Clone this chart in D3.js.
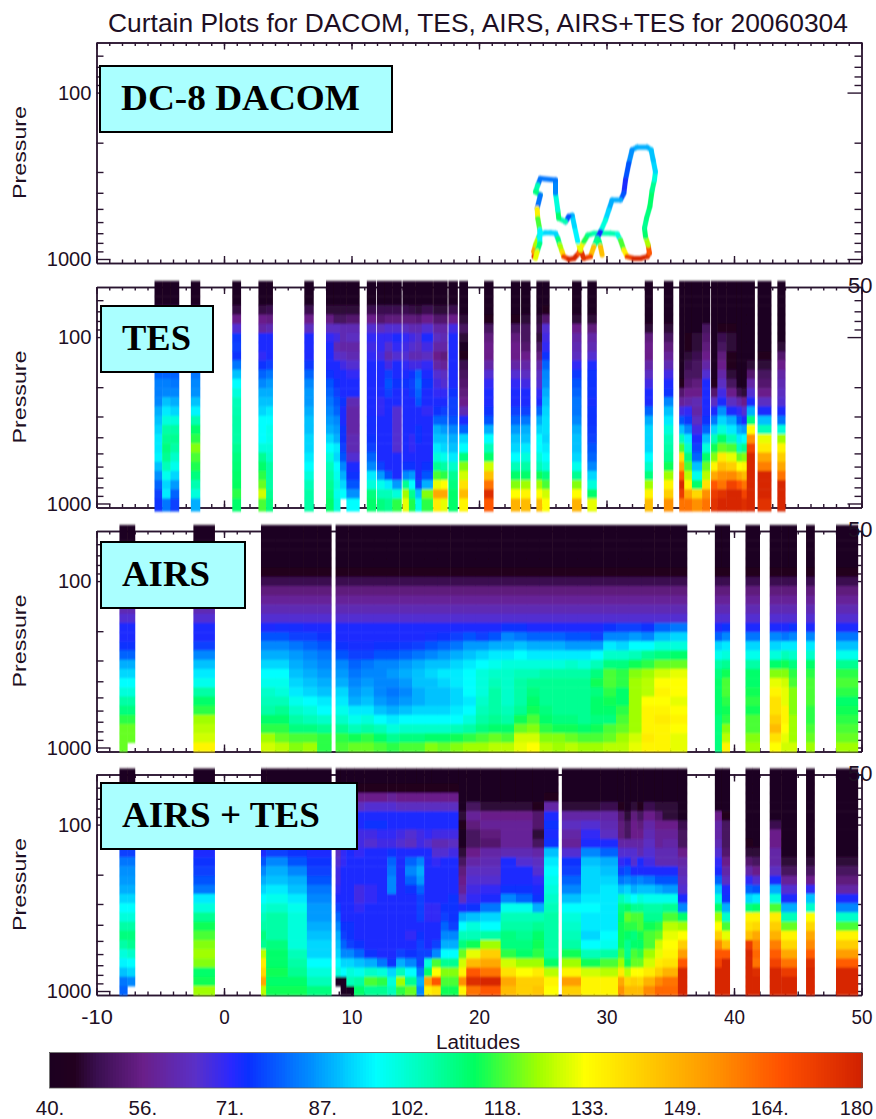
<!DOCTYPE html>
<html><head><meta charset="utf-8">
<script src="https://cdn.jsdelivr.net/npm/d3@7"></script>
<style>html,body{margin:0;padding:0;background:#fff}svg{display:block}
text{font-family:"Liberation Sans",sans-serif;fill:#1e0f24}</style></head><body>
<svg id="c" width="876" height="1119"></svg>
<script>
// ---------- data ----------
const chartTitle = "Curtain Plots for DACOM, TES, AIRS, AIRS+TES for 20060304";
const pressureEdges = [46,56.8,64.5,73.2,83.2,94.5,107,122,138,157,178,203,230,261,297,337,383,435,494,561,637,723,821,933,1057];
const latTicks = [-10,0,10,20,30,40,50];
const latMinor = d3.range(-10,51);
const pressMajor = [100,1000];
const pressMinor = [60,70,80,90,200,300,400,500,600,700,800,900];
const cbTicks = [40,56,71,87,102,118,133,149,164,180];
const cbLabels = ["40.","56.","71.","87.","102.","118.","133.","149.","164.","180"];
const cmapValues = [40,44,48,56,65,71,74,85,96,105,113,124,132,145,155,166,180];
const cmapColors = ["#1c0020","#22001f","#3a0f50","#6a1f8a","#5a30c8","#2a28ff","#0a30ff","#0090ff","#00ffff","#00ffb0","#00ff60","#a0ff00","#ffff00","#ffc000","#ff9000","#ff5000","#d02000"];

// DC-8 DACOM track
const dacomLat = [24.30,24.43,24.30,24.43,24.69,24.82,25.22,25.61,26.0,26.18,26.34,26.52,26.65,27.05,27.44,27.83,27.96,28.22,28.54,29.01,29.53,30.31,30.84,31.1,31.36,31.62,32.14,32.67,33.19,33.37,33.27,33.06,32.98,33.14,33.4,33.58,33.76,33.84,33.66,33.5,33.19,32.4,32.01,31.75,31.49,31.36,31.1,30.44,30.18,29.92,29.53,29.27,29.01,28.74,28.22,27.96,27.75,27.49,27.31,27.05,26.78,26.26,26.18,26.0,26.0,24.82,24.61,24.43,24.82,24.56,24.61,24.77,24.77,24.56,24.43];
const dacomPres = [968,947,904,824,735,708,695,695,701,751,824,904,968,1004,992,925,863,788,718,701,701,701,708,770,883,968,992,992,968,925,824,735,653,570,485,386,335,299,254,221,213,213,221,266,335,403,442,442,508,584,685,751,842,968,992,883,788,638,546,554,598,570,508,403,335,328,360,395,412,497,570,669,805,904,992];
const dacomVal = [175,165,150,125,105,95,92,92,92,110,125,140,170,178,178,165,135,115,108,105,105,105,100,118,135,170,178,178,175,165,125,112,108,110,112,108,100,92,90,90,88,88,85,78,72,78,88,88,92,100,73,108,145,170,175,130,95,92,88,78,105,112,100,84,82,82,105,110,82,135,118,95,110,130,175];
const dacomStickLat = [29.4,29.53,29.66];
const dacomStickPres = [770,842,947];
const dacomStickVal = [110,145,170];

// TES columns
const tesSpans = [[-5.45,-4.85],[-4.85,-4.2],[-4.2,-3.55],[-2.6,-1.9],[0.65,1.3],[2.7,3.3],[3.3,3.8],[6.3,7.0],[8.0,8.6],[8.6,9.1],[9.1,9.6],[9.6,10.6],[11.2,11.9],[12,12.6],[12.6,13.2],[13.2,13.9],[14,14.5],[14.5,15],[15,15.5],[15.5,16.35],[16.4,17],[17,17.5],[17.6,18.3],[18.45,19.1],[20.4,21.1],[22.5,23.2],[23.3,24],[24.5,24.95],[24.95,25.5],[27.3,28],[28.5,29.2],[33,33.6],[34.5,35.2],[35.7,36.1],[36.1,36.7],[36.7,37.5],[37.5,38.1],[38.2,38.7],[38.7,39.4],[39.4,40.2],[40.2,40.6],[40.6,41],[41,41.6],[41.85,42.9],[43.4,44]];
const tesProfiles = [
[41,41,48,56,65,72,72,72,73,80,83,83,84,88,90,92,94,94,95,90,85,80,76,74],
[41,41,48,56,65,72,72,72,73,80,83,84,90,94,100,106,108,110,108,104,98,92,94,82],
[41,41,48,56,65,72,72,72,73,80,82,84,88,92,100,106,108,106,102,98,92,86,80,76],
[41,41,48,56,65,72,72,72,75,82,84,85,90,95,105,112,116,122,118,115,110,105,100,88],
[41,41,47,56,66,75,76,74,82,90,96,100,104,105,106,106,106,108,110,111,112,113,116,112],
[41,41,47,56,60,72,72,70,74,80,84,88,90,92,96,96,96,100,108,112,116,120,128,118],
[41,41,48,55,62,72,72,72,76,82,86,88,90,94,96,98,98,100,102,106,106,106,108,110],
[41,41,48,56,64,72,72,72,75,80,84,86,86,88,90,90,92,92,94,96,100,104,106,106],
[41,41,46,55,64,70,72,72,72,74,78,80,82,84,86,88,92,96,100,104,106,108,110,112],
[41,41,46,50,64,68,62,66,72,72,74,76,78,80,84,86,88,94,92,96,98,100,98,100],
[41,41,46,50,62,62,60,64,68,72,72,72,74,72,72,74,74,76,78,84,88,92,96,null],
[41,41,46,52,62,64,60,62,66,70,72,72,62,60,60,60,62,62,66,72,74,78,85,96],
[41,41,48,56,66,70,68,70,72,72,72,72,72,72,73,73,74,76,80,84,94,100,110,112],
[41,41,48,52,64,70,70,68,72,72,72,72,70,70,72,72,72,72,72,76,86,98,104,110],
[41,41,48,54,66,70,66,62,68,76,78,76,72,72,72,72,72,72,72,72,78,94,104,108],
[41,41,48,54,66,72,70,66,72,72,74,72,72,66,66,66,66,66,72,72,72,86,100,116],
[41,41,48,54,64,70,68,66,70,72,74,72,72,72,72,72,72,72,72,74,84,108,124,130],
[41,41,47,54,62,68,66,62,68,74,76,75,72,72,72,72,70,70,72,74,86,96,108,115],
[41,41,46,53,62,66,64,62,68,80,82,80,78,72,72,74,74,72,72,72,72,76,90,98],
[41,41,48,56,66,72,68,64,70,72,74,72,72,70,72,72,72,72,72,74,78,88,122,116],
[41,41,46,52,60,64,60,56,60,66,68,70,72,74,80,88,90,94,100,108,118,130,150,136],
[41,41,46,52,60,62,60,54,58,64,66,70,72,76,80,86,90,92,98,106,116,132,150,130],
[41,41,48,56,68,72,72,72,72,72,72,74,76,76,78,84,88,90,94,102,108,110,112,112],
[41,41,41,46,50,46,42,44,48,50,52,54,56,62,72,80,92,96,110,122,128,138,146,134],
[41,41,41,44,50,54,56,56,60,66,70,72,72,74,78,88,96,104,112,128,145,160,176,165],
[41,41,41,44,50,54,56,56,60,66,70,72,72,76,80,86,90,92,96,104,112,122,132,148],
[41,41,41,46,50,50,52,56,60,64,68,72,72,76,82,88,90,94,100,106,112,124,134,146],
[41,41,41,46,48,46,50,54,60,64,66,70,72,80,88,92,96,96,100,104,114,124,132,146],
[41,41,44,52,66,68,70,74,80,84,85,88,90,92,93,93,92,94,96,100,110,118,128,132],
[41,41,41,46,56,60,62,64,70,75,78,80,82,82,84,88,90,90,92,98,108,122,132,148],
[41,41,41,46,54,60,62,66,72,74,74,74,73,74,74,75,76,78,80,84,92,100,112,130],
[41,41,41,41,46,54,56,56,60,64,68,72,72,80,88,92,92,92,96,102,110,124,134,146],
[41,41,41,41,46,50,54,58,62,68,72,74,84,90,94,100,104,106,108,114,124,134,142,155],
[41,41,41,41,41,41,41,41,41,41,44,52,58,68,78,90,104,118,138,150,165,178,172,160],
[41,41,41,41,41,44,44,46,48,50,52,56,60,70,75,84,94,102,110,118,126,134,150,160],
[41,41,41,41,41,46,46,48,50,50,54,56,62,60,64,68,72,76,80,90,98,112,140,155],
[41,41,41,41,50,52,54,56,60,66,72,72,72,72,74,80,90,100,112,120,126,138,155,160],
[41,41,41,41,41,41,41,41,41,41,44,52,64,72,82,92,104,114,122,134,150,165,172,175],
[41,41,41,41,44,48,50,54,56,60,64,68,72,85,92,100,112,120,136,145,155,160,175,178],
[41,41,41,41,44,46,46,44,44,46,50,56,64,72,88,94,104,118,130,142,156,170,178,178],
[41,41,41,41,41,41,41,41,41,41,42,48,60,70,78,88,94,104,120,132,150,165,178,178],
[41,41,41,41,41,41,41,41,41,41,41,46,56,66,72,86,96,108,122,134,146,160,170,176],
[41,41,41,41,41,41,41,42,46,52,60,66,72,88,110,132,155,170,178,178,178,178,178,178],
[41,41,41,41,41,41,41,44,46,50,52,56,64,72,90,104,130,136,150,158,178,178,178,175],
[41,41,41,41,41,42,46,52,56,60,62,64,66,72,82,100,124,134,142,150,160,178,178,178]
];

// AIRS columns
const airsUpper = [41,41,41,41,44,48,54,58,62,66];
const airsSpans = [[-8.2,-7.6],[-7.6,-7.0],[-2.4,-0.75],[2.9,4.0],[4.0,5.1],[5.1,6.2],[6.2,7.3],[7.3,8.4],[8.75,9.75],[9.75,10.75],[10.75,11.75],[11.75,12.75],[12.75,13.75],[13.75,14.75],[14.75,15.75],[15.75,16.75],[16.75,17.75],[17.75,18.75],[18.75,19.75],[19.75,20.75],[20.75,21.75],[21.75,22.75],[22.75,23.75],[23.75,24.75],[24.75,25.75],[25.75,26.75],[26.75,27.75],[27.75,28.75],[28.75,29.75],[29.75,30.75],[30.75,31.75],[31.75,32.75],[32.75,33.75],[33.75,35],[35,36.3],[38.5,39.05],[39.05,39.65],[40.9,42],[42.8,43.7],[43.7,44.3],[44.3,44.9],[45.65,46.3],[48,49.7]];
const airsProfiles = [
[...airsUpper,72,72,74,80,88,92,96,100,106,110,116,120,120,120],
[...airsUpper,72,72,74,80,88,92,96,100,106,110,116,120,120,null],
[...airsUpper,72,72,76,84,90,94,98,106,112,116,124,126,128,134],
[...airsUpper,72,78,84,88,92,96,98,102,104,106,112,116,124,128],
[...airsUpper,73,78,84,88,92,96,98,100,104,108,112,116,120,126],
[...airsUpper,73,76,82,86,88,90,92,94,98,102,106,110,118,122],
[...airsUpper,72,76,80,84,86,88,90,92,96,100,104,110,118,124],
[...airsUpper,72,74,78,82,84,86,88,90,94,96,102,108,116,116],
[...airsUpper,72,72,74,78,84,86,88,92,94,98,102,108,116,118],
[...airsUpper,72,72,73,76,80,82,84,86,88,94,98,104,114,120],
[...airsUpper,72,72,73,76,82,84,86,88,90,94,100,106,116,120],
[...airsUpper,72,72,74,78,84,84,84,84,86,90,96,104,112,118],
[...airsUpper,72,72,74,78,84,86,84,82,84,88,94,100,108,116],
[...airsUpper,72,72,75,80,86,88,86,84,86,90,96,102,110,118],
[...airsUpper,72,72,76,82,88,90,90,88,88,92,96,102,110,118],
[...airsUpper,72,73,78,84,90,92,90,90,90,92,96,102,112,122],
[...airsUpper,72,74,80,86,90,94,92,90,90,92,96,102,112,120],
[...airsUpper,72,76,82,88,92,94,94,92,92,94,96,104,114,122],
[...airsUpper,72,78,86,90,94,96,96,96,94,96,100,106,116,124],
[...airsUpper,72,76,86,92,96,100,100,100,102,104,106,110,118,124],
[...airsUpper,72,78,88,94,98,102,104,106,106,106,108,112,120,126],
[...airsUpper,74,84,88,94,100,102,102,102,102,104,106,112,118,126],
[...airsUpper,74,82,90,96,100,104,106,106,106,108,114,120,128,130],
[...airsUpper,72,80,88,94,100,104,108,110,112,114,118,122,128,132],
[...airsUpper,72,80,88,94,100,106,108,108,108,110,112,116,122,126],
[...airsUpper,72,80,88,94,100,106,108,108,108,108,110,114,122,124],
[...airsUpper,72,78,86,94,102,106,108,108,108,108,110,114,120,126],
[...airsUpper,72,78,86,94,100,106,108,108,108,108,108,112,118,124],
[...airsUpper,72,76,86,96,104,110,114,110,112,112,110,114,118,124],
[...airsUpper,74,84,94,102,110,118,118,116,114,112,110,118,120,126],
[...airsUpper,76,84,92,102,110,116,116,112,112,116,118,120,124,126],
[...airsUpper,76,86,96,104,114,122,124,124,124,124,124,124,128,130],
[...airsUpper,74,84,96,108,116,124,126,126,132,134,134,134,136,134],
[...airsUpper,80,90,100,110,120,128,132,134,132,134,136,134,134,134],
[...airsUpper,82,92,100,112,120,130,132,132,130,132,134,132,130,130],
[...airsUpper,72,80,92,98,106,110,112,112,112,112,110,110,110,110],
[...airsUpper,74,84,94,100,108,114,118,118,116,114,116,122,126,134],
[...airsUpper,72,82,92,98,106,112,112,114,116,114,118,118,122,124],
[...airsUpper,72,84,92,100,112,122,130,134,138,138,142,146,138,132],
[...airsUpper,72,82,94,104,114,122,128,130,130,134,134,132,130,128],
[...airsUpper,74,84,94,102,110,116,118,122,122,122,124,124,124,128],
[...airsUpper,72,84,94,102,112,116,118,118,118,116,116,118,120,124],
[...airsUpper,72,82,90,98,108,116,118,116,112,114,116,118,120,124]
];

// AIRS + TES columns
const bothSpans = [[-8.2,-7.6],[-7.6,-7.0],[-2.4,-0.75],[2.9,3.3],[3.3,5],[5,6.5],[6.5,8.4],[8.75,9.15],[9.15,9.6],[9.6,10.2],[10.2,11],[11,12],[12,12.8],[12.8,13.5],[13.5,14.2],[14.2,15.1],[15.1,15.7],[15.7,16.3],[16.3,17],[17,17.6],[17.6,18.4],[18.4,19],[19,20.1],[20.1,21.7],[21.7,22.9],[22.9,24.2],[24.2,25.1],[25.1,26.2],[26.5,28],[28,29.5],[29.5,30.9],[30.9,31.4],[31.4,31.9],[31.9,32.4],[32.4,32.9],[32.9,33.8],[33.8,34.4],[34.4,35.6],[35.6,36.3],[38.5,39.05],[39.05,39.65],[40.9,41.45],[41.45,42],[42.8,43.7],[43.7,44.9],[45.65,46.3],[48,49.7]];
const bothProfiles = [
[41,41,48,56,66,72,72,72,76,82,85,86,88,92,96,100,106,110,106,100,95,90,82,80],
[41,41,48,56,66,72,72,72,76,82,85,86,88,92,96,100,106,110,108,102,96,92,84,null],
[41,41,48,56,66,72,72,72,72,74,76,78,82,94,100,108,114,118,122,124,122,112,114,124],
[41,41,48,56,66,72,72,72,72,78,84,88,92,96,100,104,106,110,108,126,136,140,150,126],
[41,41,48,56,66,72,72,74,76,84,88,90,94,98,102,106,106,106,110,112,112,114,112,114],
[41,41,48,56,66,72,72,72,74,78,84,88,90,94,98,100,100,100,100,104,106,108,112,114],
[41,41,48,56,66,72,72,72,72,74,76,78,82,84,86,86,88,90,92,92,96,100,104,110],
[41,41,48,50,56,60,62,64,64,66,68,68,70,72,76,80,84,88,90,92,96,100,40,null],
[41,41,50,60,68,72,72,72,70,70,72,72,72,72,72,72,74,76,80,84,92,96,40,40],
[41,41,48,60,72,72,72,72,72,72,72,72,72,72,72,72,74,74,76,84,92,100,104,40],
[41,44,56,64,72,72,68,68,70,72,72,72,68,68,70,72,72,72,74,80,90,98,106,112],
[41,44,56,66,72,74,68,66,72,72,72,72,70,70,72,72,72,72,72,74,88,102,118,108],
[41,44,56,66,72,74,70,68,72,72,72,72,72,72,72,72,72,72,72,72,82,100,116,108],
[41,44,58,66,72,72,70,68,74,80,82,84,84,72,72,72,72,72,72,72,74,92,100,104],
[41,44,56,64,72,72,68,66,72,72,72,72,72,72,72,72,72,72,72,76,88,104,124,116],
[41,44,56,64,72,72,66,64,72,80,84,80,74,72,72,72,72,70,72,74,84,96,108,120],
[41,44,56,64,72,72,68,68,72,84,88,86,80,76,76,76,72,74,76,76,76,82,88,84],
[41,44,56,64,72,72,70,66,72,72,72,72,72,72,70,70,72,72,72,76,100,112,150,135],
[41,44,56,64,72,72,68,62,66,70,72,72,72,72,70,70,72,72,76,84,118,132,165,138],
[41,44,56,64,72,72,68,62,66,72,72,72,72,72,74,76,80,84,88,96,108,122,118,114],
[41,44,56,64,72,72,68,64,68,72,72,72,72,74,74,74,76,84,88,96,108,122,118,114],
[41,41,41,41,46,44,41,42,46,50,54,56,58,64,72,88,96,104,110,120,128,134,155,134],
[41,41,41,50,58,54,50,50,56,60,64,66,68,70,74,90,100,104,114,130,146,165,176,160],
[41,41,41,46,56,58,54,52,60,62,64,66,70,72,82,92,96,106,124,142,150,160,178,165],
[41,41,41,46,56,58,58,58,62,72,72,72,74,84,98,104,106,110,110,116,128,138,150,146],
[41,41,41,46,56,58,58,58,62,66,72,72,74,80,98,104,106,108,110,112,124,132,142,142],
[41,41,41,44,52,52,46,50,60,64,66,70,72,74,88,104,108,112,114,116,124,136,142,144],
[41,41,44,60,72,74,72,74,90,94,96,98,100,102,104,106,106,106,106,106,112,126,134,132],
[41,41,41,46,60,64,60,58,66,74,76,80,84,90,96,100,102,104,106,114,124,134,152,142],
[41,41,41,46,60,66,70,72,84,90,92,92,92,94,96,94,94,92,96,104,114,128,134,134],
[41,41,41,48,60,62,64,72,80,88,90,92,94,94,94,94,94,96,98,106,118,126,134,134],
[41,41,41,44,52,54,54,60,66,70,76,82,90,104,110,112,114,114,114,118,124,136,150,155],
[41,41,41,41,46,50,50,60,66,72,78,84,92,100,112,120,116,112,108,108,114,126,140,146],
[41,41,41,46,54,56,56,60,66,66,72,82,88,96,108,118,116,110,112,118,120,132,142,146],
[41,41,41,44,50,54,56,60,62,72,72,84,90,100,108,118,118,114,112,116,120,132,140,146],
[41,41,41,48,56,60,62,64,66,68,72,82,90,98,106,108,114,118,118,124,128,136,148,156],
[41,41,41,46,52,56,58,58,62,62,72,78,88,98,106,108,116,120,128,130,136,142,156,162],
[41,41,41,46,46,56,58,60,62,62,72,78,86,98,108,118,126,130,132,134,138,148,160,162],
[41,41,41,41,41,48,50,50,56,60,62,64,66,72,84,112,124,132,142,152,165,178,178,178],
[41,41,41,41,56,60,60,62,66,70,72,80,90,100,112,124,132,142,156,165,170,178,178,178],
[41,41,41,41,44,50,50,50,52,56,60,64,72,74,88,102,118,130,145,165,178,178,178,178],
[41,41,41,41,41,41,41,44,46,52,60,70,80,92,110,134,138,145,172,178,178,178,178,178],
[41,41,41,41,41,41,41,42,46,50,56,66,78,94,112,134,140,150,158,162,160,176,178,178],
[41,41,41,41,41,48,56,56,60,60,64,72,88,100,118,136,142,148,158,164,170,178,178,178],
[41,41,41,41,41,41,41,41,41,46,50,58,66,72,88,104,120,134,140,150,160,172,178,178],
[41,41,41,41,41,41,41,41,42,46,50,56,70,90,102,132,140,150,156,164,176,178,178,178],
[41,41,41,41,41,41,41,41,41,46,50,54,60,72,84,102,118,134,142,152,164,178,178,178]
];

// ---------- layout ----------
const svg = d3.select("#c");
const axisColor = "#2a1530";
const x = d3.scaleLinear([-10,50],[96.5,861.5]);
const color = d3.scaleLinear(cmapValues, cmapColors).clamp(true);
const panels = [
  {top:42.5, label:"DC-8 DACOM", box:[100,66,292,66], tx:121, tl:239, right50:false},
  {top:287, label:"TES", box:[101,306,112,66], tx:122, tl:69, right50:true, spans:tesSpans, rows:tesProfiles, bottomEdge:1110},
  {top:531, label:"AIRS", box:[101,542,144,66], tx:122, tl:88, right50:true, spans:airsSpans, rows:airsProfiles, bottomEdge:1057},
  {top:774.5, label:"AIRS + TES", box:[101,783,256,66], tx:122, tl:198, right50:true, spans:bothSpans, rows:bothProfiles, bottomEdge:1057}
];
const plotH = 220.5;

svg.append("defs").append("filter").attr("id","soft")
  .attr("filterUnits","userSpaceOnUse").attr("x",0).attr("y",0).attr("width",876).attr("height",1119)
  .append("feGaussianBlur").attr("stdDeviation","0.7 1.2");

svg.append("text").attr("x",108).attr("y",32).attr("font-size",25.5)
  .attr("textLength",740).attr("lengthAdjust","spacingAndGlyphs").text(chartTitle);

function styleAxis(g){
  g.selectAll("path,line").attr("stroke",axisColor).attr("stroke-width",1.4);
  g.selectAll("text").attr("font-family",'"Liberation Sans",sans-serif').attr("fill","#1e0f24");
}
const narrow = (sel,perChar)=>sel.attr("lengthAdjust","spacingAndGlyphs").attr("textLength",function(){return this.textContent.length*perChar;});

panels.forEach((p,pi)=>{
  const y = d3.scaleLog([50,1057],[p.top,p.top+plotH]);
  const g = svg.append("g");
  const bottomY = p.top+plotH, leftX = x.range()[0], rightX = x.range()[1];
  g.append("g").attr("transform",`translate(0,${bottomY})`).call(d3.axisBottom(x).tickValues(latMinor).tickSize(-3.5).tickFormat("").tickSizeOuter(0)).call(styleAxis);
  g.append("g").attr("transform",`translate(0,${bottomY})`).call(d3.axisBottom(x).tickValues(latTicks).tickSize(-7).tickFormat("").tickSizeOuter(0)).call(styleAxis);
  g.append("g").attr("transform",`translate(0,${p.top})`).call(d3.axisTop(x).tickValues(latMinor).tickSize(-3.5).tickFormat("").tickSizeOuter(0)).call(styleAxis);
  g.append("g").attr("transform",`translate(0,${p.top})`).call(d3.axisTop(x).tickValues(latTicks).tickSize(-7).tickFormat("").tickSizeOuter(0)).call(styleAxis);
  g.append("g").attr("transform",`translate(${leftX},0)`).call(d3.axisLeft(y).tickValues(pressMinor).tickSize(-7).tickFormat("").tickSizeOuter(0)).call(styleAxis);
  g.append("g").attr("transform",`translate(${rightX},0)`).call(d3.axisRight(y).tickValues(pressMinor).tickSize(-7).tickFormat("").tickSizeOuter(0)).call(styleAxis);
  g.append("g").attr("transform",`translate(${rightX},0)`).call(d3.axisRight(y).tickValues(pressMajor).tickSize(-14).tickFormat("").tickSizeOuter(0)).call(styleAxis);
  const la = g.append("g").attr("transform",`translate(${leftX},0)`).call(d3.axisLeft(y).tickValues(pressMajor).tickSize(-14).tickPadding(5).tickFormat(String).tickSizeOuter(0)).call(styleAxis);
  la.selectAll("text").attr("font-size",21).call(narrow,11.2);

  if(p.rows){
    const heat = svg.append("g").attr("filter","url(#soft)");
    const edges = pressureEdges.slice(); edges[edges.length-1] = p.bottomEdge;
    const cells = [];
    p.rows.forEach((row,c)=>row.forEach((v,k)=>{ if(v!==null) cells.push({span:p.spans[c],k,v}); }));
    heat.selectAll("rect").data(cells).join("rect")
      .attr("x",d=>x(d.span[0])).attr("width",d=>x(d.span[1])-x(d.span[0])+0.5)
      .attr("y",d=>y(edges[d.k])).attr("height",d=>y(edges[d.k+1])-y(edges[d.k])+0.5)
      .attr("fill",d=>color(d.v));
  } else {
    const line = d3.line().x(d=>x(d.lat)).y(d=>y(d.p));
    const track = svg.append("g").attr("filter","url(#soft)");
    const drawTrack = (lats,pres,vals)=>{
      const pts = lats.map((lat,i)=>({lat,p:pres[i],v:vals[i]}));
      track.append("g").selectAll("path").data(d3.pairs(pts)).join("path")
        .attr("d",d=>line(d)).attr("fill","none").attr("stroke",d=>color(d[0].v))
        .attr("stroke-width",5).attr("stroke-linecap","round");
    };
    drawTrack(dacomLat,dacomPres,dacomVal);
    drawTrack(dacomStickLat,dacomStickPres,dacomStickVal);
  }

  svg.append("text").attr("transform",`translate(26,${p.top+110}) rotate(-90)`).attr("text-anchor","middle")
    .attr("font-size",19).attr("textLength",93).attr("lengthAdjust","spacingAndGlyphs").text("Pressure");

  if(p.right50){
    svg.append("text").attr("x",848).attr("y",p.top+6).attr("font-size",22).text("50");
  }
  svg.append("rect").attr("x",p.box[0]).attr("y",p.box[1]).attr("width",p.box[2]).attr("height",p.box[3])
    .attr("fill","#aaffff").attr("stroke","#000").attr("stroke-width",2);
  svg.append("text").attr("x",p.tx).attr("y",p.box[1]+44).attr("font-size",36).attr("font-weight","bold")
    .style("font-family",'"Liberation Serif",serif').style("fill","#000")
    .attr("textLength",p.tl).attr("lengthAdjust","spacingAndGlyphs").text(p.label);
});

// x labels
const xl = svg.append("g").attr("transform",`translate(0,${panels[3].top+plotH})`)
  .call(d3.axisBottom(x).tickValues(latTicks).tickSize(0).tickPadding(14).tickFormat(String));
xl.select(".domain").remove();
xl.selectAll("text").attr("font-size",21).attr("font-family",'"Liberation Sans",sans-serif').attr("fill","#1e0f24").call(narrow,10.5);
svg.append("text").attr("x",478).attr("y",1049).attr("text-anchor","middle").attr("font-size",20)
  .attr("textLength",84).attr("lengthAdjust","spacingAndGlyphs").text("Latitudes");

// colour bar
const cx = d3.scaleLinear([40,180],[49.5,862]);
const cbVals = d3.range(40,180,0.5);
svg.append("g").selectAll("rect").data(cbVals).join("rect")
  .attr("x",d=>cx(d)).attr("width",d=>cx(d+0.5)-cx(d)+1).attr("y",1052.5).attr("height",35.5).attr("fill",d=>color(d))
  .attr("shape-rendering","crispEdges");
svg.append("rect").attr("x",49.5).attr("y",1052.5).attr("width",812.5).attr("height",35.5).attr("fill","none").attr("stroke","#555").attr("stroke-width",0.8);
const cb = svg.append("g").attr("transform","translate(0,1088)")
  .call(d3.axisBottom(cx).tickValues(cbTicks).tickSize(0).tickPadding(13).tickFormat((d,i)=>cbLabels[i]));
cb.select(".domain").remove();
cb.selectAll("text").attr("font-size",20).attr("font-family",'"Liberation Sans",sans-serif').attr("fill","#1e0f24").call(narrow,9.5);
cb.selectAll("text").filter(d=>d===180).attr("x",-6).attr("textLength",null).attr("lengthAdjust",null);
</script></body></html>
